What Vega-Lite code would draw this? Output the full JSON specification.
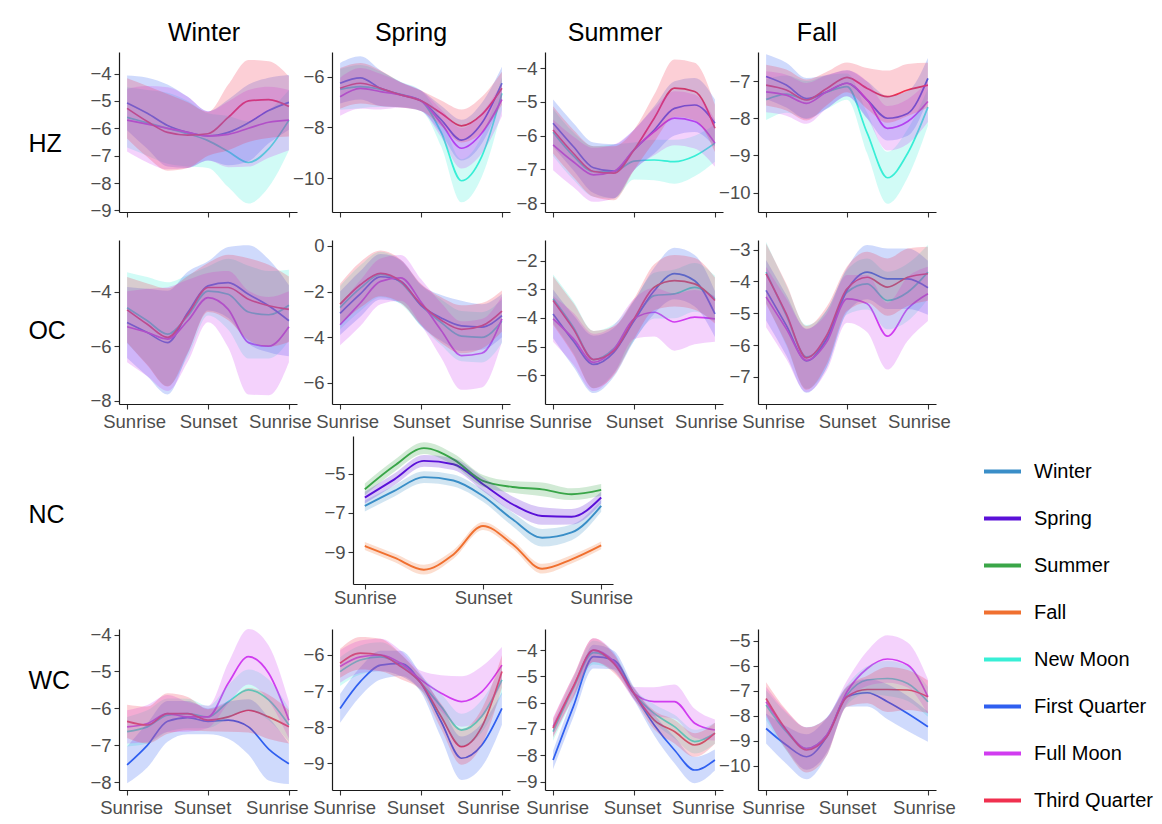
{
"$schema":"https://vega.github.io/schema/vega-lite/v6.json",
"background":"white",
"autosize":{"type":"pad"},
"padding":{"left":27,"top":21,"right":5,"bottom":5},
"config":{
"font":"Liberation Sans",
"view":{"stroke":null},
"axis":{"grid":false,"domainColor":"#1a1a1a","domainWidth":1.2,"tickColor":"#333333","tickWidth":1.1,"tickSize":5,"labelColor":"#4d4d4d","labelFontSize":18.5,"labelFont":"Liberation Sans","labelPadding":3},
"axisY":{"titleAngle":0,"titleAlign":"left","titleBaseline":"middle","titleFontSize":25,"titleFontWeight":"normal","titleColor":"#000","titleFont":"Liberation Sans"},
"title":{"font":"Liberation Sans","fontSize":25,"fontWeight":"normal","color":"#000","anchor":"middle","frame":"group","offset":6}
},
"datasets":{
"HZW":[
{"s":"New Moon","x":0,"y":-5.6,"e":1.1},{"s":"New Moon","x":0.25,"y":-5.8,"e":1.2},{"s":"New Moon","x":0.5,"y":-6.0,"e":1.3},{"s":"New Moon","x":0.75,"y":-6.2,"e":1.2},{"s":"New Moon","x":1,"y":-6.45,"e":1.0},{"s":"New Moon","x":1.25,"y":-6.85,"e":1.3},{"s":"New Moon","x":1.5,"y":-7.25,"e":1.5},{"s":"New Moon","x":1.75,"y":-6.75,"e":1.4},{"s":"New Moon","x":2,"y":-5.7,"e":1.1},
{"s":"First Quarter","x":0,"y":-5.07,"e":1.0},{"s":"First Quarter","x":0.25,"y":-5.45,"e":1.3},{"s":"First Quarter","x":0.5,"y":-5.9,"e":1.5},{"s":"First Quarter","x":0.75,"y":-6.15,"e":1.3},{"s":"First Quarter","x":1,"y":-6.28,"e":0.9},{"s":"First Quarter","x":1.25,"y":-6.15,"e":1.2},{"s":"First Quarter","x":1.5,"y":-5.8,"e":1.4},{"s":"First Quarter","x":1.75,"y":-5.35,"e":1.2},{"s":"First Quarter","x":2,"y":-5.05,"e":1.0},
{"s":"Full Moon","x":0,"y":-5.7,"e":1.15},{"s":"Full Moon","x":0.25,"y":-5.85,"e":1.4},{"s":"Full Moon","x":0.5,"y":-6.0,"e":1.5},{"s":"Full Moon","x":0.75,"y":-6.15,"e":1.3},{"s":"Full Moon","x":1,"y":-6.28,"e":0.9},{"s":"Full Moon","x":1.25,"y":-6.22,"e":1.2},{"s":"Full Moon","x":1.5,"y":-6.0,"e":1.4},{"s":"Full Moon","x":1.75,"y":-5.78,"e":1.3},{"s":"Full Moon","x":2,"y":-5.7,"e":1.1},
{"s":"Third Quarter","x":0,"y":-5.27,"e":1.1},{"s":"Third Quarter","x":0.25,"y":-5.75,"e":1.3},{"s":"Third Quarter","x":0.5,"y":-6.15,"e":1.4},{"s":"Third Quarter","x":0.75,"y":-6.25,"e":1.2},{"s":"Third Quarter","x":1,"y":-6.2,"e":0.8},{"s":"Third Quarter","x":1.25,"y":-5.6,"e":1.2},{"s":"Third Quarter","x":1.5,"y":-5.0,"e":1.5},{"s":"Third Quarter","x":1.75,"y":-4.95,"e":1.4},{"s":"Third Quarter","x":2,"y":-5.2,"e":1.1}
],
"HZS":[
{"s":"New Moon","x":0,"y":-6.5,"e":0.8},{"s":"New Moon","x":0.25,"y":-6.39,"e":0.85},{"s":"New Moon","x":0.5,"y":-6.5,"e":0.7},{"s":"New Moon","x":0.75,"y":-6.7,"e":0.5},{"s":"New Moon","x":1,"y":-6.95,"e":0.4},{"s":"New Moon","x":1.25,"y":-8.2,"e":0.55},{"s":"New Moon","x":1.5,"y":-10.1,"e":0.85},{"s":"New Moon","x":1.75,"y":-9.15,"e":0.8},{"s":"New Moon","x":2,"y":-6.66,"e":0.65},
{"s":"First Quarter","x":0,"y":-6.26,"e":0.8},{"s":"First Quarter","x":0.25,"y":-6.05,"e":0.85},{"s":"First Quarter","x":0.5,"y":-6.46,"e":0.7},{"s":"First Quarter","x":0.75,"y":-6.72,"e":0.5},{"s":"First Quarter","x":1,"y":-6.95,"e":0.4},{"s":"First Quarter","x":1.25,"y":-7.7,"e":0.55},{"s":"First Quarter","x":1.5,"y":-8.5,"e":0.8},{"s":"First Quarter","x":1.75,"y":-7.84,"e":0.8},{"s":"First Quarter","x":2,"y":-6.26,"e":0.65},
{"s":"Full Moon","x":0,"y":-6.79,"e":0.75},{"s":"Full Moon","x":0.25,"y":-6.46,"e":0.8},{"s":"Full Moon","x":0.5,"y":-6.59,"e":0.7},{"s":"Full Moon","x":0.75,"y":-6.72,"e":0.5},{"s":"Full Moon","x":1,"y":-6.95,"e":0.4},{"s":"Full Moon","x":1.25,"y":-7.84,"e":0.55},{"s":"Full Moon","x":1.5,"y":-8.82,"e":0.8},{"s":"Full Moon","x":1.75,"y":-8.23,"e":0.8},{"s":"Full Moon","x":2,"y":-6.9,"e":0.65},
{"s":"Third Quarter","x":0,"y":-6.46,"e":0.8},{"s":"Third Quarter","x":0.25,"y":-6.26,"e":0.8},{"s":"Third Quarter","x":0.5,"y":-6.46,"e":0.7},{"s":"Third Quarter","x":0.75,"y":-6.72,"e":0.5},{"s":"Third Quarter","x":1,"y":-6.95,"e":0.4},{"s":"Third Quarter","x":1.25,"y":-7.44,"e":0.5},{"s":"Third Quarter","x":1.5,"y":-7.94,"e":0.65},{"s":"Third Quarter","x":1.75,"y":-7.5,"e":0.7},{"s":"Third Quarter","x":2,"y":-6.46,"e":0.65}
],
"HZU":[
{"s":"New Moon","x":0,"y":-5.9,"e":0.7},{"s":"New Moon","x":0.25,"y":-6.6,"e":0.7},{"s":"New Moon","x":0.5,"y":-7.06,"e":0.75},{"s":"New Moon","x":0.75,"y":-7.06,"e":0.8},{"s":"New Moon","x":1,"y":-6.75,"e":0.55},{"s":"New Moon","x":1.25,"y":-6.72,"e":0.6},{"s":"New Moon","x":1.5,"y":-6.77,"e":0.65},{"s":"New Moon","x":1.75,"y":-6.6,"e":0.6},{"s":"New Moon","x":2,"y":-6.22,"e":0.55},
{"s":"First Quarter","x":0,"y":-5.63,"e":0.7},{"s":"First Quarter","x":0.25,"y":-6.32,"e":0.7},{"s":"First Quarter","x":0.5,"y":-6.95,"e":0.75},{"s":"First Quarter","x":0.75,"y":-7.05,"e":0.8},{"s":"First Quarter","x":1,"y":-6.42,"e":0.6},{"s":"First Quarter","x":1.25,"y":-5.83,"e":0.7},{"s":"First Quarter","x":1.5,"y":-5.19,"e":0.8},{"s":"First Quarter","x":1.75,"y":-5.09,"e":0.8},{"s":"First Quarter","x":2,"y":-5.63,"e":0.7},
{"s":"Full Moon","x":0,"y":-6.27,"e":0.75},{"s":"Full Moon","x":0.25,"y":-6.77,"e":0.75},{"s":"Full Moon","x":0.5,"y":-7.16,"e":0.8},{"s":"Full Moon","x":0.75,"y":-7.06,"e":0.8},{"s":"Full Moon","x":1,"y":-6.42,"e":0.6},{"s":"Full Moon","x":1.25,"y":-5.88,"e":0.7},{"s":"Full Moon","x":1.5,"y":-5.48,"e":0.8},{"s":"Full Moon","x":1.75,"y":-5.58,"e":0.8},{"s":"Full Moon","x":2,"y":-6.22,"e":0.7},
{"s":"Third Quarter","x":0,"y":-5.83,"e":0.7},{"s":"Third Quarter","x":0.25,"y":-6.52,"e":0.7},{"s":"Third Quarter","x":0.5,"y":-7.06,"e":0.75},{"s":"Third Quarter","x":0.75,"y":-7.11,"e":0.8},{"s":"Third Quarter","x":1,"y":-6.42,"e":0.6},{"s":"Third Quarter","x":1.25,"y":-5.48,"e":0.7},{"s":"Third Quarter","x":1.5,"y":-4.59,"e":0.85},{"s":"Third Quarter","x":1.75,"y":-4.69,"e":0.85},{"s":"Third Quarter","x":2,"y":-5.78,"e":0.7}
],
"HZF":[
{"s":"New Moon","x":0,"y":-7.5,"e":0.55},{"s":"New Moon","x":0.25,"y":-7.35,"e":0.5},{"s":"New Moon","x":0.5,"y":-7.5,"e":0.5},{"s":"New Moon","x":0.75,"y":-7.3,"e":0.45},{"s":"New Moon","x":1,"y":-7.15,"e":0.35},{"s":"New Moon","x":1.25,"y":-8.4,"e":0.55},{"s":"New Moon","x":1.5,"y":-9.6,"e":0.7},{"s":"New Moon","x":1.75,"y":-8.94,"e":0.65},{"s":"New Moon","x":2,"y":-7.7,"e":0.5},
{"s":"First Quarter","x":0,"y":-6.88,"e":0.6},{"s":"First Quarter","x":0.25,"y":-7.11,"e":0.6},{"s":"First Quarter","x":0.5,"y":-7.47,"e":0.55},{"s":"First Quarter","x":0.75,"y":-7.29,"e":0.45},{"s":"First Quarter","x":1,"y":-7.06,"e":0.35},{"s":"First Quarter","x":1.25,"y":-7.51,"e":0.5},{"s":"First Quarter","x":1.5,"y":-8.0,"e":0.6},{"s":"First Quarter","x":1.75,"y":-7.87,"e":0.6},{"s":"First Quarter","x":2,"y":-6.93,"e":0.55},
{"s":"Full Moon","x":0,"y":-7.29,"e":0.55},{"s":"Full Moon","x":0.25,"y":-7.38,"e":0.55},{"s":"Full Moon","x":0.5,"y":-7.6,"e":0.55},{"s":"Full Moon","x":0.75,"y":-7.29,"e":0.45},{"s":"Full Moon","x":1,"y":-7.06,"e":0.35},{"s":"Full Moon","x":1.25,"y":-7.51,"e":0.5},{"s":"Full Moon","x":1.5,"y":-8.27,"e":0.6},{"s":"Full Moon","x":1.75,"y":-8.09,"e":0.6},{"s":"Full Moon","x":2,"y":-7.55,"e":0.55},
{"s":"Third Quarter","x":0,"y":-7.11,"e":0.55},{"s":"Third Quarter","x":0.25,"y":-7.24,"e":0.55},{"s":"Third Quarter","x":0.5,"y":-7.51,"e":0.55},{"s":"Third Quarter","x":0.75,"y":-7.2,"e":0.45},{"s":"Third Quarter","x":1,"y":-6.9,"e":0.4},{"s":"Third Quarter","x":1.25,"y":-7.2,"e":0.55},{"s":"Third Quarter","x":1.5,"y":-7.42,"e":0.7},{"s":"Third Quarter","x":1.75,"y":-7.24,"e":0.7},{"s":"Third Quarter","x":2,"y":-7.11,"e":0.6}
],
"OCW":[
{"s":"New Moon","x":0,"y":-4.59,"e":1.3},{"s":"New Moon","x":0.25,"y":-5.07,"e":1.6},{"s":"New Moon","x":0.5,"y":-5.56,"e":1.9},{"s":"New Moon","x":0.75,"y":-4.89,"e":1.5},{"s":"New Moon","x":1,"y":-3.98,"e":0.9},{"s":"New Moon","x":1.25,"y":-4.1,"e":1.3},{"s":"New Moon","x":1.5,"y":-4.75,"e":1.7},{"s":"New Moon","x":1.75,"y":-4.85,"e":1.6},{"s":"New Moon","x":2,"y":-4.5,"e":1.3},
{"s":"First Quarter","x":0,"y":-5.13,"e":1.3},{"s":"First Quarter","x":0.25,"y":-5.5,"e":1.6},{"s":"First Quarter","x":0.5,"y":-5.87,"e":1.9},{"s":"First Quarter","x":0.75,"y":-4.77,"e":1.5},{"s":"First Quarter","x":1,"y":-3.79,"e":0.9},{"s":"First Quarter","x":1.25,"y":-3.67,"e":1.3},{"s":"First Quarter","x":1.5,"y":-4.1,"e":1.8},{"s":"First Quarter","x":1.75,"y":-4.52,"e":1.7},{"s":"First Quarter","x":2,"y":-5.07,"e":1.3},
{"s":"Full Moon","x":0,"y":-5.29,"e":1.3},{"s":"Full Moon","x":0.25,"y":-5.5,"e":1.6},{"s":"Full Moon","x":0.5,"y":-5.74,"e":1.9},{"s":"Full Moon","x":0.75,"y":-5.07,"e":1.5},{"s":"Full Moon","x":1,"y":-4.22,"e":0.9},{"s":"Full Moon","x":1.25,"y":-4.65,"e":1.4},{"s":"Full Moon","x":1.5,"y":-5.87,"e":1.9},{"s":"Full Moon","x":1.75,"y":-6.0,"e":1.8},{"s":"Full Moon","x":2,"y":-5.29,"e":1.3},
{"s":"Third Quarter","x":0,"y":-4.67,"e":1.2},{"s":"Third Quarter","x":0.25,"y":-5.2,"e":1.5},{"s":"Third Quarter","x":0.5,"y":-5.68,"e":1.8},{"s":"Third Quarter","x":0.75,"y":-4.83,"e":1.4},{"s":"Third Quarter","x":1,"y":-3.85,"e":0.9},{"s":"Third Quarter","x":1.25,"y":-3.85,"e":1.2},{"s":"Third Quarter","x":1.5,"y":-4.28,"e":1.5},{"s":"Third Quarter","x":1.75,"y":-4.52,"e":1.5},{"s":"Third Quarter","x":2,"y":-4.65,"e":1.2}
],
"OCS":[
{"s":"New Moon","x":0,"y":-2.7,"e":0.95},{"s":"New Moon","x":0.25,"y":-1.85,"e":1.0},{"s":"New Moon","x":0.5,"y":-1.25,"e":1.0},{"s":"New Moon","x":0.75,"y":-1.6,"e":0.95},{"s":"New Moon","x":1,"y":-2.6,"e":0.9},{"s":"New Moon","x":1.25,"y":-3.35,"e":1.0},{"s":"New Moon","x":1.5,"y":-3.95,"e":1.1},{"s":"New Moon","x":1.75,"y":-4.0,"e":1.1},{"s":"New Moon","x":2,"y":-3.3,"e":0.95},
{"s":"First Quarter","x":0,"y":-2.95,"e":0.95},{"s":"First Quarter","x":0.25,"y":-2.1,"e":1.0},{"s":"First Quarter","x":0.5,"y":-1.35,"e":1.0},{"s":"First Quarter","x":0.75,"y":-1.55,"e":0.95},{"s":"First Quarter","x":1,"y":-2.6,"e":0.9},{"s":"First Quarter","x":1.25,"y":-3.15,"e":1.0},{"s":"First Quarter","x":1.5,"y":-3.5,"e":1.1},{"s":"First Quarter","x":1.75,"y":-3.55,"e":1.0},{"s":"First Quarter","x":2,"y":-3.05,"e":0.95},
{"s":"Full Moon","x":0,"y":-3.45,"e":0.9},{"s":"Full Moon","x":0.25,"y":-2.5,"e":1.0},{"s":"Full Moon","x":0.5,"y":-1.55,"e":1.0},{"s":"Full Moon","x":0.75,"y":-1.4,"e":1.0},{"s":"Full Moon","x":1,"y":-2.45,"e":1.0},{"s":"Full Moon","x":1.25,"y":-3.7,"e":1.2},{"s":"Full Moon","x":1.5,"y":-4.8,"e":1.5},{"s":"Full Moon","x":1.75,"y":-4.7,"e":1.5},{"s":"Full Moon","x":2,"y":-3.2,"e":1.0},
{"s":"Third Quarter","x":0,"y":-2.55,"e":0.9},{"s":"Third Quarter","x":0.25,"y":-1.7,"e":1.0},{"s":"Third Quarter","x":0.5,"y":-1.2,"e":1.0},{"s":"Third Quarter","x":0.75,"y":-1.55,"e":0.95},{"s":"Third Quarter","x":1,"y":-2.55,"e":0.9},{"s":"Third Quarter","x":1.25,"y":-3.25,"e":1.0},{"s":"Third Quarter","x":1.5,"y":-3.65,"e":1.05},{"s":"Third Quarter","x":1.75,"y":-3.5,"e":1.0},{"s":"Third Quarter","x":2,"y":-2.85,"e":0.9}
],
"OCU":[
{"s":"New Moon","x":0,"y":-3.33,"e":0.85},{"s":"New Moon","x":0.25,"y":-4.32,"e":0.9},{"s":"New Moon","x":0.5,"y":-5.45,"e":1.0},{"s":"New Moon","x":0.75,"y":-5.07,"e":0.85},{"s":"New Moon","x":1,"y":-4.09,"e":0.7},{"s":"New Moon","x":1.25,"y":-3.22,"e":0.8},{"s":"New Moon","x":1.5,"y":-3.16,"e":0.85},{"s":"New Moon","x":1.75,"y":-2.93,"e":0.85},{"s":"New Moon","x":2,"y":-3.33,"e":0.8},
{"s":"First Quarter","x":0,"y":-3.86,"e":0.85},{"s":"First Quarter","x":0.25,"y":-4.8,"e":0.9},{"s":"First Quarter","x":0.5,"y":-5.62,"e":1.0},{"s":"First Quarter","x":0.75,"y":-5.2,"e":0.85},{"s":"First Quarter","x":1,"y":-4.1,"e":0.7},{"s":"First Quarter","x":1.25,"y":-3.05,"e":0.8},{"s":"First Quarter","x":1.5,"y":-2.45,"e":0.9},{"s":"First Quarter","x":1.75,"y":-2.7,"e":0.9},{"s":"First Quarter","x":2,"y":-3.86,"e":0.8},
{"s":"Full Moon","x":0,"y":-4.03,"e":0.8},{"s":"Full Moon","x":0.25,"y":-4.72,"e":0.9},{"s":"Full Moon","x":0.5,"y":-5.55,"e":1.0},{"s":"Full Moon","x":0.75,"y":-5.1,"e":0.85},{"s":"Full Moon","x":1,"y":-4.03,"e":0.7},{"s":"Full Moon","x":1.25,"y":-3.8,"e":0.85},{"s":"Full Moon","x":1.5,"y":-4.14,"e":1.0},{"s":"Full Moon","x":1.75,"y":-3.97,"e":0.95},{"s":"Full Moon","x":2,"y":-4.03,"e":0.8},
{"s":"Third Quarter","x":0,"y":-3.39,"e":0.85},{"s":"Third Quarter","x":0.25,"y":-4.38,"e":0.9},{"s":"Third Quarter","x":0.5,"y":-5.45,"e":1.0},{"s":"Third Quarter","x":0.75,"y":-5.15,"e":0.85},{"s":"Third Quarter","x":1,"y":-4.03,"e":0.7},{"s":"Third Quarter","x":1.25,"y":-2.93,"e":0.8},{"s":"Third Quarter","x":1.5,"y":-2.7,"e":0.9},{"s":"Third Quarter","x":1.75,"y":-2.81,"e":0.9},{"s":"Third Quarter","x":2,"y":-3.39,"e":0.8}
],
"OCF":[
{"s":"New Moon","x":0,"y":-3.71,"e":0.95},{"s":"New Moon","x":0.25,"y":-5.07,"e":0.95},{"s":"New Moon","x":0.5,"y":-6.37,"e":1.0},{"s":"New Moon","x":0.75,"y":-5.8,"e":0.9},{"s":"New Moon","x":1,"y":-4.34,"e":0.7},{"s":"New Moon","x":1.25,"y":-4.08,"e":0.8},{"s":"New Moon","x":1.5,"y":-4.6,"e":0.9},{"s":"New Moon","x":1.75,"y":-4.34,"e":0.9},{"s":"New Moon","x":2,"y":-3.71,"e":0.85},
{"s":"First Quarter","x":0,"y":-4.28,"e":0.95},{"s":"First Quarter","x":0.25,"y":-5.38,"e":0.95},{"s":"First Quarter","x":0.5,"y":-6.5,"e":1.0},{"s":"First Quarter","x":0.75,"y":-5.8,"e":0.9},{"s":"First Quarter","x":1,"y":-4.28,"e":0.7},{"s":"First Quarter","x":1.25,"y":-3.71,"e":0.85},{"s":"First Quarter","x":1.5,"y":-3.92,"e":0.95},{"s":"First Quarter","x":1.75,"y":-3.92,"e":0.95},{"s":"First Quarter","x":2,"y":-4.2,"e":0.85},
{"s":"Full Moon","x":0,"y":-4.49,"e":0.95},{"s":"Full Moon","x":0.25,"y":-5.49,"e":0.95},{"s":"Full Moon","x":0.5,"y":-6.48,"e":1.0},{"s":"Full Moon","x":0.75,"y":-5.9,"e":0.9},{"s":"Full Moon","x":1,"y":-4.55,"e":0.75},{"s":"Full Moon","x":1.25,"y":-4.7,"e":0.9},{"s":"Full Moon","x":1.5,"y":-5.72,"e":1.05},{"s":"Full Moon","x":1.75,"y":-4.86,"e":1.0},{"s":"Full Moon","x":2,"y":-4.39,"e":0.85},
{"s":"Third Quarter","x":0,"y":-3.76,"e":0.95},{"s":"Third Quarter","x":0.25,"y":-5.02,"e":0.95},{"s":"Third Quarter","x":0.5,"y":-6.4,"e":1.0},{"s":"Third Quarter","x":0.75,"y":-5.69,"e":0.9},{"s":"Third Quarter","x":1,"y":-4.23,"e":0.7},{"s":"Third Quarter","x":1.25,"y":-3.87,"e":0.8},{"s":"Third Quarter","x":1.5,"y":-4.18,"e":0.9},{"s":"Third Quarter","x":1.75,"y":-3.87,"e":0.9},{"s":"Third Quarter","x":2,"y":-3.76,"e":0.85}
],
"NC":[
{"s":"Winter","x":0,"y":-6.65,"e":0.28},{"s":"Winter","x":0.25,"y":-5.88,"e":0.28},{"s":"Winter","x":0.5,"y":-5.18,"e":0.3},{"s":"Winter","x":0.75,"y":-5.35,"e":0.3},{"s":"Winter","x":1,"y":-6.14,"e":0.3},{"s":"Winter","x":1.25,"y":-7.33,"e":0.35},{"s":"Winter","x":1.5,"y":-8.27,"e":0.45},{"s":"Winter","x":1.75,"y":-8.0,"e":0.4},{"s":"Winter","x":2,"y":-6.65,"e":0.3},
{"s":"Spring","x":0,"y":-6.22,"e":0.3},{"s":"Spring","x":0.25,"y":-5.29,"e":0.3},{"s":"Spring","x":0.5,"y":-4.35,"e":0.3},{"s":"Spring","x":0.75,"y":-4.52,"e":0.3},{"s":"Spring","x":1,"y":-5.54,"e":0.35},{"s":"Spring","x":1.25,"y":-6.56,"e":0.4},{"s":"Spring","x":1.5,"y":-7.16,"e":0.45},{"s":"Spring","x":1.75,"y":-7.2,"e":0.4},{"s":"Spring","x":2,"y":-6.22,"e":0.3},
{"s":"Summer","x":0,"y":-5.8,"e":0.3},{"s":"Summer","x":0.25,"y":-4.6,"e":0.3},{"s":"Summer","x":0.5,"y":-3.7,"e":0.3},{"s":"Summer","x":0.75,"y":-4.27,"e":0.3},{"s":"Summer","x":1,"y":-5.37,"e":0.3},{"s":"Summer","x":1.25,"y":-5.68,"e":0.3},{"s":"Summer","x":1.5,"y":-5.8,"e":0.35},{"s":"Summer","x":1.75,"y":-6.05,"e":0.3},{"s":"Summer","x":2,"y":-5.83,"e":0.3},
{"s":"Fall","x":0,"y":-8.69,"e":0.2},{"s":"Fall","x":0.25,"y":-9.29,"e":0.22},{"s":"Fall","x":0.5,"y":-9.9,"e":0.25},{"s":"Fall","x":0.75,"y":-9.12,"e":0.22},{"s":"Fall","x":1,"y":-7.67,"e":0.2},{"s":"Fall","x":1.25,"y":-8.6,"e":0.22},{"s":"Fall","x":1.5,"y":-9.85,"e":0.25},{"s":"Fall","x":1.75,"y":-9.37,"e":0.22},{"s":"Fall","x":2,"y":-8.66,"e":0.2}
],
"WCW":[
{"s":"New Moon","x":0,"y":-6.63,"e":0.4},{"s":"New Moon","x":0.25,"y":-6.5,"e":0.45},{"s":"New Moon","x":0.5,"y":-6.18,"e":0.45},{"s":"New Moon","x":0.75,"y":-6.14,"e":0.4},{"s":"New Moon","x":1,"y":-6.23,"e":0.3},{"s":"New Moon","x":1.25,"y":-5.82,"e":0.45},{"s":"New Moon","x":1.5,"y":-5.5,"e":0.55},{"s":"New Moon","x":1.75,"y":-5.77,"e":0.55},{"s":"New Moon","x":2,"y":-6.45,"e":0.45},
{"s":"First Quarter","x":0,"y":-7.53,"e":0.5},{"s":"First Quarter","x":0.25,"y":-7.0,"e":0.6},{"s":"First Quarter","x":0.5,"y":-6.35,"e":0.55},{"s":"First Quarter","x":0.75,"y":-6.25,"e":0.45},{"s":"First Quarter","x":1,"y":-6.35,"e":0.35},{"s":"First Quarter","x":1.25,"y":-6.32,"e":0.5},{"s":"First Quarter","x":1.5,"y":-6.5,"e":0.75},{"s":"First Quarter","x":1.75,"y":-7.1,"e":0.85},{"s":"First Quarter","x":2,"y":-7.5,"e":0.55},
{"s":"Full Moon","x":0,"y":-6.5,"e":0.45},{"s":"Full Moon","x":0.25,"y":-6.41,"e":0.5},{"s":"Full Moon","x":0.5,"y":-6.14,"e":0.5},{"s":"Full Moon","x":0.75,"y":-6.23,"e":0.4},{"s":"Full Moon","x":1,"y":-6.23,"e":0.3},{"s":"Full Moon","x":1.25,"y":-5.32,"e":0.55},{"s":"Full Moon","x":1.5,"y":-4.6,"e":0.75},{"s":"Full Moon","x":1.75,"y":-5.05,"e":0.75},{"s":"Full Moon","x":2,"y":-6.32,"e":0.5},
{"s":"Third Quarter","x":0,"y":-6.35,"e":0.45},{"s":"Third Quarter","x":0.25,"y":-6.45,"e":0.5},{"s":"Third Quarter","x":0.5,"y":-6.14,"e":0.55},{"s":"Third Quarter","x":0.75,"y":-6.14,"e":0.45},{"s":"Third Quarter","x":1,"y":-6.32,"e":0.3},{"s":"Third Quarter","x":1.25,"y":-6.23,"e":0.4},{"s":"Third Quarter","x":1.5,"y":-6.05,"e":0.6},{"s":"Third Quarter","x":1.75,"y":-6.23,"e":0.6},{"s":"Third Quarter","x":2,"y":-6.5,"e":0.45}
],
"WCS":[
{"s":"New Moon","x":0,"y":-6.46,"e":0.4},{"s":"New Moon","x":0.25,"y":-6.14,"e":0.4},{"s":"New Moon","x":0.5,"y":-6.05,"e":0.4},{"s":"New Moon","x":0.75,"y":-6.28,"e":0.3},{"s":"New Moon","x":1,"y":-6.78,"e":0.2},{"s":"New Moon","x":1.25,"y":-7.43,"e":0.35},{"s":"New Moon","x":1.5,"y":-8.08,"e":0.45},{"s":"New Moon","x":1.75,"y":-7.7,"e":0.45},{"s":"New Moon","x":2,"y":-6.69,"e":0.4},
{"s":"First Quarter","x":0,"y":-7.48,"e":0.4},{"s":"First Quarter","x":0.25,"y":-6.74,"e":0.4},{"s":"First Quarter","x":0.5,"y":-6.28,"e":0.4},{"s":"First Quarter","x":0.75,"y":-6.23,"e":0.35},{"s":"First Quarter","x":1,"y":-6.78,"e":0.25},{"s":"First Quarter","x":1.25,"y":-7.85,"e":0.45},{"s":"First Quarter","x":1.5,"y":-8.86,"e":0.6},{"s":"First Quarter","x":1.75,"y":-8.5,"e":0.6},{"s":"First Quarter","x":2,"y":-7.48,"e":0.45},
{"s":"Full Moon","x":0,"y":-6.32,"e":0.45},{"s":"Full Moon","x":0.25,"y":-6.05,"e":0.45},{"s":"Full Moon","x":0.5,"y":-6.0,"e":0.45},{"s":"Full Moon","x":0.75,"y":-6.23,"e":0.35},{"s":"Full Moon","x":1,"y":-6.69,"e":0.25},{"s":"Full Moon","x":1.25,"y":-7.06,"e":0.5},{"s":"Full Moon","x":1.5,"y":-7.29,"e":0.7},{"s":"Full Moon","x":1.75,"y":-7.02,"e":0.7},{"s":"Full Moon","x":2,"y":-6.28,"e":0.5},
{"s":"Third Quarter","x":0,"y":-6.23,"e":0.4},{"s":"Third Quarter","x":0.25,"y":-5.95,"e":0.45},{"s":"Third Quarter","x":0.5,"y":-6.0,"e":0.45},{"s":"Third Quarter","x":0.75,"y":-6.32,"e":0.35},{"s":"Third Quarter","x":1,"y":-6.78,"e":0.2},{"s":"Third Quarter","x":1.25,"y":-7.71,"e":0.35},{"s":"Third Quarter","x":1.5,"y":-8.54,"e":0.5},{"s":"Third Quarter","x":1.75,"y":-8.0,"e":0.5},{"s":"Third Quarter","x":2,"y":-6.46,"e":0.45}
],
"WCU":[
{"s":"New Moon","x":0,"y":-7.1,"e":0.35},{"s":"New Moon","x":0.25,"y":-5.46,"e":0.4},{"s":"New Moon","x":0.5,"y":-4.1,"e":0.45},{"s":"New Moon","x":0.75,"y":-4.44,"e":0.35},{"s":"New Moon","x":1,"y":-5.65,"e":0.2},{"s":"New Moon","x":1.25,"y":-6.41,"e":0.35},{"s":"New Moon","x":1.5,"y":-6.91,"e":0.45},{"s":"New Moon","x":1.75,"y":-7.48,"e":0.45},{"s":"New Moon","x":2,"y":-7.16,"e":0.4},
{"s":"First Quarter","x":0,"y":-8.18,"e":0.35},{"s":"First Quarter","x":0.25,"y":-6.15,"e":0.4},{"s":"First Quarter","x":0.5,"y":-4.25,"e":0.45},{"s":"First Quarter","x":0.75,"y":-4.38,"e":0.35},{"s":"First Quarter","x":1,"y":-5.65,"e":0.25},{"s":"First Quarter","x":1.25,"y":-6.85,"e":0.4},{"s":"First Quarter","x":1.5,"y":-7.8,"e":0.5},{"s":"First Quarter","x":1.75,"y":-8.56,"e":0.5},{"s":"First Quarter","x":2,"y":-8.18,"e":0.4},
{"s":"Full Moon","x":0,"y":-6.91,"e":0.35},{"s":"Full Moon","x":0.25,"y":-5.39,"e":0.4},{"s":"Full Moon","x":0.5,"y":-4.0,"e":0.45},{"s":"Full Moon","x":0.75,"y":-4.44,"e":0.35},{"s":"Full Moon","x":1,"y":-5.65,"e":0.25},{"s":"Full Moon","x":1.25,"y":-5.96,"e":0.55},{"s":"Full Moon","x":1.5,"y":-5.96,"e":0.65},{"s":"Full Moon","x":1.75,"y":-6.78,"e":0.55},{"s":"Full Moon","x":2,"y":-7.04,"e":0.4},
{"s":"Third Quarter","x":0,"y":-6.97,"e":0.35},{"s":"Third Quarter","x":0.25,"y":-5.39,"e":0.4},{"s":"Third Quarter","x":0.5,"y":-4.0,"e":0.45},{"s":"Third Quarter","x":0.75,"y":-4.51,"e":0.35},{"s":"Third Quarter","x":1,"y":-5.65,"e":0.2},{"s":"Third Quarter","x":1.25,"y":-6.66,"e":0.35},{"s":"Third Quarter","x":1.5,"y":-7.1,"e":0.45},{"s":"Third Quarter","x":1.75,"y":-7.61,"e":0.45},{"s":"Third Quarter","x":2,"y":-7.16,"e":0.4}
],
"WCF":[
{"s":"New Moon","x":0,"y":-7.57,"e":0.6},{"s":"New Moon","x":0.25,"y":-8.64,"e":0.75},{"s":"New Moon","x":0.5,"y":-9.31,"e":0.85},{"s":"New Moon","x":0.75,"y":-8.77,"e":0.7},{"s":"New Moon","x":1,"y":-7.17,"e":0.4},{"s":"New Moon","x":1.25,"y":-6.57,"e":0.55},{"s":"New Moon","x":1.5,"y":-6.51,"e":0.7},{"s":"New Moon","x":1.75,"y":-6.71,"e":0.7},{"s":"New Moon","x":2,"y":-7.44,"e":0.6},
{"s":"First Quarter","x":0,"y":-8.51,"e":0.6},{"s":"First Quarter","x":0.25,"y":-9.17,"e":0.75},{"s":"First Quarter","x":0.5,"y":-9.64,"e":0.9},{"s":"First Quarter","x":0.75,"y":-8.84,"e":0.75},{"s":"First Quarter","x":1,"y":-7.24,"e":0.4},{"s":"First Quarter","x":1.25,"y":-7.08,"e":0.55},{"s":"First Quarter","x":1.5,"y":-7.44,"e":0.7},{"s":"First Quarter","x":1.75,"y":-7.91,"e":0.7},{"s":"First Quarter","x":2,"y":-8.44,"e":0.6},
{"s":"Full Moon","x":0,"y":-7.44,"e":0.6},{"s":"Full Moon","x":0.25,"y":-8.57,"e":0.75},{"s":"Full Moon","x":0.5,"y":-9.31,"e":0.85},{"s":"Full Moon","x":0.75,"y":-8.77,"e":0.7},{"s":"Full Moon","x":1,"y":-7.04,"e":0.45},{"s":"Full Moon","x":1.25,"y":-6.11,"e":0.7},{"s":"Full Moon","x":1.5,"y":-5.73,"e":0.95},{"s":"Full Moon","x":1.75,"y":-5.97,"e":0.9},{"s":"Full Moon","x":2,"y":-7.24,"e":0.7},
{"s":"Third Quarter","x":0,"y":-7.31,"e":0.65},{"s":"Third Quarter","x":0.25,"y":-8.57,"e":0.8},{"s":"Third Quarter","x":0.5,"y":-9.37,"e":0.9},{"s":"Third Quarter","x":0.75,"y":-8.84,"e":0.75},{"s":"Third Quarter","x":1,"y":-7.24,"e":0.4},{"s":"Third Quarter","x":1.25,"y":-6.95,"e":0.55},{"s":"Third Quarter","x":1.5,"y":-6.95,"e":0.9},{"s":"Third Quarter","x":1.75,"y":-6.97,"e":0.8},{"s":"Third Quarter","x":2,"y":-7.24,"e":0.65}
]
},
"spacing":5,
"vconcat":[
{"spacing":16,"vconcat":[
{"bounds":"flush","spacing":35,"hconcat":[
{"width":178,"height":160,"title":{"text":"Winter","dx":-4},"data":{"name":"HZW"},
"encoding":{"x":{"field":"x","type":"quantitative","scale":{"domain":[-0.1,2.1],"nice":false,"zero":false},"axis":{"title":null,"values":[0,1,2],"labels":false}},
"y":{"field":"y","type":"quantitative","scale":{"domain":[-9.06,-3.21],"nice":false,"zero":false},"axis":{"values":[-9,-8,-7,-6,-5,-4],"title":"HZ","titlePadding":62,"titleY":91}},
"color":{"field":"s","type":"nominal","scale":{"domain":["Winter","Spring","Summer","Fall","New Moon","First Quarter","Full Moon","Third Quarter"],"range":["#3a8ec8","#5a10d8","#3aa648","#f07030","#38efd6","#2f5ff0","#d13cf0","#f0304f"]}}},
"layer":[{"mark":{"type":"line","interpolate":"monotone","strokeWidth":1.7,"clip":true}},{"mark":{"type":"errorband","interpolate":"monotone","band":{"opacity":0.23},"clip":true},"encoding":{"yError":{"field":"e"}}}]},
{"width":178,"height":160,"title":{"text":"Spring","dx":-10},"data":{"name":"HZS"},
"encoding":{"x":{"field":"x","type":"quantitative","scale":{"domain":[-0.1,2.1],"nice":false,"zero":false},"axis":{"title":null,"values":[0,1,2],"labels":false}},
"y":{"field":"y","type":"quantitative","scale":{"domain":[-11.33,-5.03],"nice":false,"zero":false},"axis":{"values":[-10,-8,-6],"title":null}},
"color":{"field":"s","type":"nominal","scale":{"domain":["Winter","Spring","Summer","Fall","New Moon","First Quarter","Full Moon","Third Quarter"],"range":["#3a8ec8","#5a10d8","#3aa648","#f07030","#38efd6","#2f5ff0","#d13cf0","#f0304f"]}}},
"layer":[{"mark":{"type":"line","interpolate":"monotone","strokeWidth":1.7,"clip":true}},{"mark":{"type":"errorband","interpolate":"monotone","band":{"opacity":0.23},"clip":true},"encoding":{"yError":{"field":"e"}}}]},
{"width":178,"height":160,"title":{"text":"Summer","dx":-19},"data":{"name":"HZU"},
"encoding":{"x":{"field":"x","type":"quantitative","scale":{"domain":[-0.1,2.1],"nice":false,"zero":false},"axis":{"title":null,"values":[0,1,2],"labels":false}},
"y":{"field":"y","type":"quantitative","scale":{"domain":[-8.26,-3.52],"nice":false,"zero":false},"axis":{"values":[-8,-7,-6,-5,-4],"title":null}},
"color":{"field":"s","type":"nominal","scale":{"domain":["Winter","Spring","Summer","Fall","New Moon","First Quarter","Full Moon","Third Quarter"],"range":["#3a8ec8","#5a10d8","#3aa648","#f07030","#38efd6","#2f5ff0","#d13cf0","#f0304f"]}}},
"layer":[{"mark":{"type":"line","interpolate":"monotone","strokeWidth":1.7,"clip":true}},{"mark":{"type":"errorband","interpolate":"monotone","band":{"opacity":0.23},"clip":true},"encoding":{"yError":{"field":"e"}}}]},
{"width":178,"height":160,"title":{"text":"Fall","dx":-30},"data":{"name":"HZF"},
"encoding":{"x":{"field":"x","type":"quantitative","scale":{"domain":[-0.1,2.1],"nice":false,"zero":false},"axis":{"title":null,"values":[0,1,2],"labels":false}},
"y":{"field":"y","type":"quantitative","scale":{"domain":[-10.52,-6.22],"nice":false,"zero":false},"axis":{"values":[-10,-9,-8,-7],"title":null}},
"color":{"field":"s","type":"nominal","scale":{"domain":["Winter","Spring","Summer","Fall","New Moon","First Quarter","Full Moon","Third Quarter"],"range":["#3a8ec8","#5a10d8","#3aa648","#f07030","#38efd6","#2f5ff0","#d13cf0","#f0304f"]}}},
"layer":[{"mark":{"type":"line","interpolate":"monotone","strokeWidth":1.7,"clip":true}},{"mark":{"type":"errorband","interpolate":"monotone","band":{"opacity":0.23},"clip":true},"encoding":{"yError":{"field":"e"}}}]}
]},
{"bounds":"flush","spacing":35,"hconcat":[
{"width":178,"height":164,"data":{"name":"OCW"},
"encoding":{"x":{"field":"x","type":"quantitative","scale":{"domain":[-0.1,2.1],"nice":false,"zero":false},"axis":{"title":null,"values":[0,1,2],"labelExpr":"datum.value == 1 ? 'Sunset' : 'Sunrise'","labelFlush":false,"labelOverlap":false,"labelOffset":{"condition":[{"test":"datum.value == 0","value":7},{"test":"datum.value == 2","value":-9}],"value":0}}},
"y":{"field":"y","type":"quantitative","scale":{"domain":[-8.12,-2.11],"nice":false,"zero":false},"axis":{"values":[-8,-6,-4],"title":"OC","titlePadding":62,"titleY":90}},
"color":{"field":"s","type":"nominal","scale":{"domain":["Winter","Spring","Summer","Fall","New Moon","First Quarter","Full Moon","Third Quarter"],"range":["#3a8ec8","#5a10d8","#3aa648","#f07030","#38efd6","#2f5ff0","#d13cf0","#f0304f"]}}},
"layer":[{"mark":{"type":"line","interpolate":"monotone","strokeWidth":1.7,"clip":true}},{"mark":{"type":"errorband","interpolate":"monotone","band":{"opacity":0.23},"clip":true},"encoding":{"yError":{"field":"e"}}}]},
{"width":178,"height":164,"data":{"name":"OCS"},
"encoding":{"x":{"field":"x","type":"quantitative","scale":{"domain":[-0.1,2.1],"nice":false,"zero":false},"axis":{"title":null,"values":[0,1,2],"labelExpr":"datum.value == 1 ? 'Sunset' : 'Sunrise'","labelFlush":false,"labelOverlap":false,"labelOffset":{"condition":[{"test":"datum.value == 0","value":7},{"test":"datum.value == 2","value":-9}],"value":0}}},
"y":{"field":"y","type":"quantitative","scale":{"domain":[-6.92,0.26],"nice":false,"zero":false},"axis":{"values":[-6,-4,-2,0],"title":null}},
"color":{"field":"s","type":"nominal","scale":{"domain":["Winter","Spring","Summer","Fall","New Moon","First Quarter","Full Moon","Third Quarter"],"range":["#3a8ec8","#5a10d8","#3aa648","#f07030","#38efd6","#2f5ff0","#d13cf0","#f0304f"]}}},
"layer":[{"mark":{"type":"line","interpolate":"monotone","strokeWidth":1.7,"clip":true}},{"mark":{"type":"errorband","interpolate":"monotone","band":{"opacity":0.23},"clip":true},"encoding":{"yError":{"field":"e"}}}]},
{"width":178,"height":164,"data":{"name":"OCU"},
"encoding":{"x":{"field":"x","type":"quantitative","scale":{"domain":[-0.1,2.1],"nice":false,"zero":false},"axis":{"title":null,"values":[0,1,2],"labelExpr":"datum.value == 1 ? 'Sunset' : 'Sunrise'","labelFlush":false,"labelOverlap":false,"labelOffset":{"condition":[{"test":"datum.value == 0","value":7},{"test":"datum.value == 2","value":-9}],"value":0}}},
"y":{"field":"y","type":"quantitative","scale":{"domain":[-7.0,-1.28],"nice":false,"zero":false},"axis":{"values":[-6,-5,-4,-3,-2],"title":null}},
"color":{"field":"s","type":"nominal","scale":{"domain":["Winter","Spring","Summer","Fall","New Moon","First Quarter","Full Moon","Third Quarter"],"range":["#3a8ec8","#5a10d8","#3aa648","#f07030","#38efd6","#2f5ff0","#d13cf0","#f0304f"]}}},
"layer":[{"mark":{"type":"line","interpolate":"monotone","strokeWidth":1.7,"clip":true}},{"mark":{"type":"errorband","interpolate":"monotone","band":{"opacity":0.23},"clip":true},"encoding":{"yError":{"field":"e"}}}]},
{"width":178,"height":164,"data":{"name":"OCF"},
"encoding":{"x":{"field":"x","type":"quantitative","scale":{"domain":[-0.1,2.1],"nice":false,"zero":false},"axis":{"title":null,"values":[0,1,2],"labelExpr":"datum.value == 1 ? 'Sunset' : 'Sunrise'","labelFlush":false,"labelOverlap":false,"labelOffset":{"condition":[{"test":"datum.value == 0","value":7},{"test":"datum.value == 2","value":-9}],"value":0}}},
"y":{"field":"y","type":"quantitative","scale":{"domain":[-7.85,-2.7],"nice":false,"zero":false},"axis":{"values":[-7,-6,-5,-4,-3],"title":null}},
"color":{"field":"s","type":"nominal","scale":{"domain":["Winter","Spring","Summer","Fall","New Moon","First Quarter","Full Moon","Third Quarter"],"range":["#3a8ec8","#5a10d8","#3aa648","#f07030","#38efd6","#2f5ff0","#d13cf0","#f0304f"]}}},
"layer":[{"mark":{"type":"line","interpolate":"monotone","strokeWidth":1.7,"clip":true}},{"mark":{"type":"errorband","interpolate":"monotone","band":{"opacity":0.23},"clip":true},"encoding":{"yError":{"field":"e"}}}]}
]}
]},
{"spacing":18,"vconcat":[
{"bounds":"flush","spacing":34,"hconcat":[
{"width":200,"height":148,"data":{"values":[{"v":0}]},"mark":{"type":"point","opacity":0},
"encoding":{"y":{"field":"v","type":"quantitative","axis":{"title":"NC","domain":false,"ticks":false,"labels":false,"titlePadding":91,"titleY":78}}}},
{"width":260,"height":148,"data":{"name":"NC"},
"encoding":{"x":{"field":"x","type":"quantitative","scale":{"domain":[-0.1,2.1],"nice":false,"zero":false},"axis":{"title":null,"values":[0,1,2],"labelExpr":"datum.value == 1 ? 'Sunset' : 'Sunrise'","labelFlush":false,"labelOverlap":false,"labelPadding":-1}},
"y":{"field":"y","type":"quantitative","scale":{"domain":[-10.63,-3.08],"nice":false,"zero":false},"axis":{"values":[-9,-7,-5],"title":null}},
"color":{"field":"s","type":"nominal","scale":{"domain":["Winter","Spring","Summer","Fall","New Moon","First Quarter","Full Moon","Third Quarter"],"range":["#3a8ec8","#5a10d8","#3aa648","#f07030","#38efd6","#2f5ff0","#d13cf0","#f0304f"]},
"legend":{"title":null,"orient":"none","legendX":863,"legendY":399,"symbolType":"stroke","symbolSize":1369,"symbolStrokeWidth":4,"symbolOpacity":1,"labelFontSize":20,"labelFont":"Liberation Sans","labelOffset":11,"rowPadding":16,"labelColor":"#000","labelLimit":250,"padding":0,
"encoding":{"symbols":{"opacity":{"value":1},"strokeOpacity":{"value":1},"strokeWidth":{"value":4}}}}}},
"layer":[{"mark":{"type":"line","interpolate":"monotone","strokeWidth":1.9,"clip":true}},{"mark":{"type":"errorband","interpolate":"monotone","band":{"opacity":0.23},"clip":true},"encoding":{"yError":{"field":"e"}}}]}
]},
{"bounds":"flush","spacing":35,"hconcat":[
{"width":178,"height":161,"data":{"name":"WCW"},
"encoding":{"x":{"field":"x","type":"quantitative","scale":{"domain":[-0.1,2.1],"nice":false,"zero":false},"axis":{"title":null,"values":[0,1,2],"labelExpr":"datum.value == 1 ? 'Sunset' : 'Sunrise'","labelFlush":false,"labelOverlap":false,"labelOffset":{"condition":[{"test":"datum.value == 0","value":4},{"test":"datum.value == 2","value":-12}],"value":-6}}},
"y":{"field":"y","type":"quantitative","scale":{"domain":[-8.21,-3.85],"nice":false,"zero":false},"axis":{"values":[-8,-7,-6,-5,-4],"title":"WC","titlePadding":62,"titleY":51}},
"color":{"field":"s","type":"nominal","scale":{"domain":["Winter","Spring","Summer","Fall","New Moon","First Quarter","Full Moon","Third Quarter"],"range":["#3a8ec8","#5a10d8","#3aa648","#f07030","#38efd6","#2f5ff0","#d13cf0","#f0304f"]}}},
"layer":[{"mark":{"type":"line","interpolate":"monotone","strokeWidth":1.7,"clip":true}},{"mark":{"type":"errorband","interpolate":"monotone","band":{"opacity":0.23},"clip":true},"encoding":{"yError":{"field":"e"}}}]},
{"width":178,"height":161,"data":{"name":"WCS"},
"encoding":{"x":{"field":"x","type":"quantitative","scale":{"domain":[-0.1,2.1],"nice":false,"zero":false},"axis":{"title":null,"values":[0,1,2],"labelExpr":"datum.value == 1 ? 'Sunset' : 'Sunrise'","labelFlush":false,"labelOverlap":false,"labelOffset":{"condition":[{"test":"datum.value == 0","value":4},{"test":"datum.value == 2","value":-14}],"value":-6}}},
"y":{"field":"y","type":"quantitative","scale":{"domain":[-9.74,-5.28],"nice":false,"zero":false},"axis":{"values":[-9,-8,-7,-6],"title":null}},
"color":{"field":"s","type":"nominal","scale":{"domain":["Winter","Spring","Summer","Fall","New Moon","First Quarter","Full Moon","Third Quarter"],"range":["#3a8ec8","#5a10d8","#3aa648","#f07030","#38efd6","#2f5ff0","#d13cf0","#f0304f"]}}},
"layer":[{"mark":{"type":"line","interpolate":"monotone","strokeWidth":1.7,"clip":true}},{"mark":{"type":"errorband","interpolate":"monotone","band":{"opacity":0.23},"clip":true},"encoding":{"yError":{"field":"e"}}}]},
{"width":178,"height":161,"data":{"name":"WCU"},
"encoding":{"x":{"field":"x","type":"quantitative","scale":{"domain":[-0.1,2.1],"nice":false,"zero":false},"axis":{"title":null,"values":[0,1,2],"labelExpr":"datum.value == 1 ? 'Sunset' : 'Sunrise'","labelFlush":false,"labelOverlap":false,"labelOffset":{"condition":[{"test":"datum.value == 0","value":4},{"test":"datum.value == 2","value":-12}],"value":-2}}},
"y":{"field":"y","type":"quantitative","scale":{"domain":[-9.32,-3.2],"nice":false,"zero":false},"axis":{"values":[-9,-8,-7,-6,-5,-4],"title":null}},
"color":{"field":"s","type":"nominal","scale":{"domain":["Winter","Spring","Summer","Fall","New Moon","First Quarter","Full Moon","Third Quarter"],"range":["#3a8ec8","#5a10d8","#3aa648","#f07030","#38efd6","#2f5ff0","#d13cf0","#f0304f"]}}},
"layer":[{"mark":{"type":"line","interpolate":"monotone","strokeWidth":1.7,"clip":true}},{"mark":{"type":"errorband","interpolate":"monotone","band":{"opacity":0.23},"clip":true},"encoding":{"yError":{"field":"e"}}}]},
{"width":178,"height":161,"data":{"name":"WCF"},
"encoding":{"x":{"field":"x","type":"quantitative","scale":{"domain":[-0.1,2.1],"nice":false,"zero":false},"axis":{"title":null,"values":[0,1,2],"labelExpr":"datum.value == 1 ? 'Sunset' : 'Sunrise'","labelFlush":false,"labelOverlap":false,"labelOffset":{"condition":[{"test":"datum.value == 0","value":7},{"test":"datum.value == 2","value":-4}],"value":0}}},
"y":{"field":"y","type":"quantitative","scale":{"domain":[-10.97,-4.53],"nice":false,"zero":false},"axis":{"values":[-10,-9,-8,-7,-6,-5],"title":null}},
"color":{"field":"s","type":"nominal","scale":{"domain":["Winter","Spring","Summer","Fall","New Moon","First Quarter","Full Moon","Third Quarter"],"range":["#3a8ec8","#5a10d8","#3aa648","#f07030","#38efd6","#2f5ff0","#d13cf0","#f0304f"]}}},
"layer":[{"mark":{"type":"line","interpolate":"monotone","strokeWidth":1.7,"clip":true}},{"mark":{"type":"errorband","interpolate":"monotone","band":{"opacity":0.23},"clip":true},"encoding":{"yError":{"field":"e"}}}]}
]}
]}
]
}
